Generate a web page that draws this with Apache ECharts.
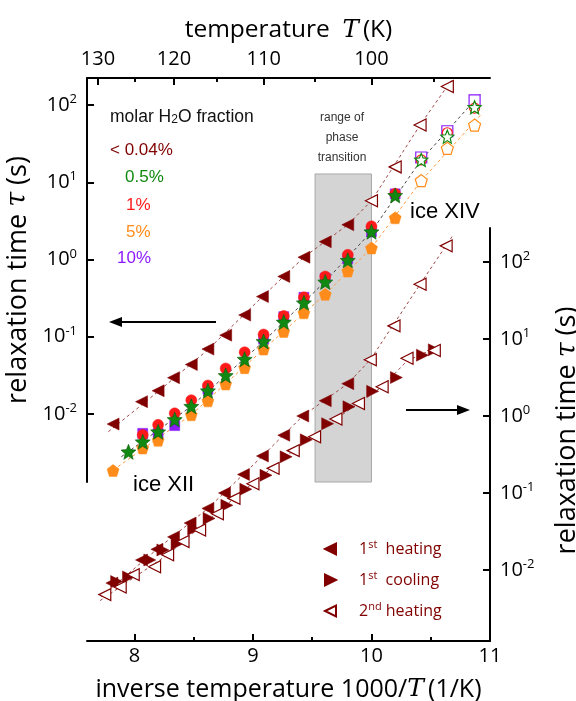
<!DOCTYPE html>
<html><head><meta charset="utf-8">
<script src="https://cdn.jsdelivr.net/npm/echarts@6/dist/echarts.min.js"></script>
<style>html,body{margin:0;padding:0;background:#fff}#c{width:576px;height:701px}</style>
</head><body><div id="c"></div>
<script>
// ---------- axis ticks ----------
const topMajorT = [130, 120, 110, 100];
const topMinorT = [125, 115, 105, 95];
const bottomMajor = [8, 9, 10, 11];
const bottomMinor = [8.5, 9.5, 10.5];
const logTicks = [-2, -1, 0, 1, 2];

// ---------- upper panel (left axis), x = 1000/T (1/K), tau (s) ----------
const h0X = [7.82, 8.06, 8.20, 8.33, 8.48, 8.62, 8.77, 8.93, 9.08, 9.26, 9.43, 9.61, 9.80];
const h0Tau = [0.00741, 0.01445, 0.0200, 0.0295, 0.0437, 0.0692, 0.105, 0.191, 0.331, 0.603, 1.07, 1.70, 2.82];
const h0OpenX = [10.00, 10.20, 10.41, 10.64];
const h0OpenTau = [5.75, 15.8, 55.0, 174];

const g5X = [7.95, 8.07, 8.20, 8.34, 8.48, 8.62, 8.77, 8.93, 9.09, 9.26, 9.43, 9.61, 9.80, 10.00, 10.20];
const g5Tau = [0.00324, 0.00437, 0.00589, 0.00851, 0.0126, 0.0200, 0.0316, 0.0513, 0.0871, 0.155, 0.275, 0.513, 0.977, 2.29, 6.76];
const g5OpenX = [10.42, 10.64, 10.87];
const g5OpenTau = [19.5, 38.9, 93.3];

const r1X = [8.07, 8.20, 8.34, 8.48, 8.62, 8.77, 8.93, 9.09, 9.26, 9.43, 9.61, 9.80, 10.00, 10.20];
const r1Tau = [0.00537, 0.00724, 0.0102, 0.0151, 0.0234, 0.0389, 0.0631, 0.107, 0.186, 0.324, 0.603, 1.15, 2.69, 7.08];
const r1OpenX = [10.42, 10.64, 10.87];
const r1OpenTau = [19.5, 43.7, 91.2];

const p10X = [8.07, 8.20, 8.34, 8.62, 9.09, 9.26, 9.43, 9.61, 9.80, 10.00, 10.20];
const p10Tau = [0.00562, 0.00562, 0.00708, 0.0209, 0.0933, 0.182, 0.324, 0.575, 1.02, 2.29, 7.08];
const p10OpenX = [10.42, 10.64, 10.87];
const p10OpenTau = [20.9, 45.7, 115];

const o5X = [7.82, 8.07, 8.20, 8.48, 8.62, 8.77, 8.93, 9.09, 9.26, 9.43, 9.61, 9.80, 10.00, 10.20];
const o5Tau = [0.00186, 0.00363, 0.00457, 0.00977, 0.0148, 0.0245, 0.0398, 0.0692, 0.117, 0.204, 0.355, 0.708, 1.41, 3.47];
const o5OpenX = [10.42, 10.64, 10.87];
const o5OpenTau = [10.5, 27.5, 55.0];

// dashed guide lines
const fitH0X = [7.78, 8.20, 8.62, 9.08, 9.43, 9.80, 10.00, 10.41, 10.68];
const fitH0Tau = [0.0059, 0.0195, 0.068, 0.33, 1.07, 2.82, 5.75, 55, 214];
const fitBlackX = [7.89, 8.48, 9.09, 9.61, 10.00, 10.42, 10.93];
const fitBlackTau = [0.0028, 0.0126, 0.087, 0.52, 2.3, 19.5, 145];
const fitOrangeX = [7.78, 8.48, 9.09, 9.61, 10.00, 10.42, 10.92];
const fitOrangeTau = [0.0017, 0.0098, 0.069, 0.355, 1.41, 10.5, 74];

// phase transition range
const transX = [9.524, 10.0];
const transTauTop = 12.8;

// ---------- lower panel (right axis) ----------
const heat1X = [7.81, 8.06, 8.19, 8.33, 8.47, 8.62, 8.76, 8.92, 9.08, 9.26, 9.42, 9.61, 9.80];
const heat1Tau = [0.00676, 0.0135, 0.0186, 0.0269, 0.0407, 0.0631, 0.100, 0.174, 0.302, 0.562, 1.00, 1.58, 2.63];
const heat1XivX = [9.99, 10.19, 10.41, 10.63];
const heat1XivTau = [5.37, 14.8, 51.3, 162];
const cool1X = [7.85, 7.95, 8.13, 8.24, 8.36, 8.50, 8.63, 8.78, 8.94, 9.11, 9.28, 9.45, 9.63, 9.81, 10.01, 10.21, 10.43, 10.53];
const cool1Tau = [0.00708, 0.00813, 0.0135, 0.0182, 0.0219, 0.0339, 0.0468, 0.0692, 0.112, 0.170, 0.295, 0.490, 0.794, 1.32, 2.09, 3.16, 6.17, 7.24];
const heat2X = [7.75, 7.88, 7.99, 8.17, 8.28, 8.41, 8.55, 8.70, 8.84, 9.00, 9.17, 9.34, 9.52, 9.70, 9.89, 10.09, 10.30, 10.53];
const heat2Tau = [0.00479, 0.00603, 0.00871, 0.0110, 0.0158, 0.0234, 0.0331, 0.0537, 0.0851, 0.132, 0.209, 0.355, 0.537, 0.912, 1.45, 2.40, 5.62, 7.08];

const fitAX = [7.72, 8.19, 8.62, 9.08, 9.42, 9.80, 9.99, 10.41, 10.68];
const fitATau = [0.0045, 0.0186, 0.0631, 0.302, 1.0, 2.63, 5.37, 51.3, 214];
const fitBX = [7.71, 8.28, 8.84, 9.34, 9.70, 10.09, 10.30, 10.56];
const fitBTau = [0.0040, 0.0158, 0.0851, 0.355, 0.912, 2.40, 5.2, 7.9];

// ---------- styling ----------
const DR = '#800000', GR = '#118811', RD = '#ff1a1a', OR = '#ff8c1a', PU = '#8c1aff';
const AX = "'Open Sans', 'Noto Sans', sans-serif";
const AR = "'Liberation Sans', Arial, sans-serif";
const STAR = 'path://M0,-10 L2.645,-3.641 L9.511,-3.09 L4.28,1.391 L5.878,8.09 L0,4.5 L-5.878,8.09 L-4.28,1.391 L-9.511,-3.09 L-2.645,-3.641 Z';
const PENT = 'path://M0,-10 L9.511,-3.09 L5.878,8.09 L-5.878,8.09 L-9.511,-3.09 Z';
const TRI_L = 'path://M0,5 L10,0 L10,10 Z';
const TRI_R = 'path://M10,5 L0,0 L0,10 Z';

function pts(xs, ts) { return xs.map((x, i) => [x, Math.log10(ts[i])]); }

const up = {xAxisIndex: 0, yAxisIndex: 0};
const lo = {xAxisIndex: 1, yAxisIndex: 1};

function fitLine(xs, ts, color, ax) {
  return Object.assign({type: 'line', data: pts(xs, ts), showSymbol: false, silent: true, z: 2,
    lineStyle: {color: color, width: 1, type: [3, 3]}, animation: false}, ax);
}
function sc(name, xs, ts, symbol, size, fill, border, bw, rot, z, ax) {
  return Object.assign({type: 'scatter', name: name, data: pts(xs, ts), symbol: symbol, symbolSize: size,
    symbolRotate: rot || 0, z: z, animation: false,
    itemStyle: {color: fill, borderColor: border, borderWidth: bw, opacity: 1}}, ax);
}

const TICKFS = 20;
const yLabel = {
  customValues: logTicks, margin: 10,
  formatter: v => '{b|10}{s|' + v + '}',
  rich: {b: {fontSize: TICKFS, fontFamily: AX, color: '#000', lineHeight: 24},
         s: {fontSize: 13, fontFamily: AX, color: '#000', verticalAlign: 'top', lineHeight: 15}}
};
function titleStyle(fs, extra) {
  return Object.assign({fontSize: fs, fontFamily: AX, color: '#000',
    rich: {i: {fontSize: fs, fontFamily: 'DejaVu Serif', fontStyle: 'italic', color: '#000'}}}, extra || {});
}
const axLine = {show: true, onZero: false, lineStyle: {color: '#000', width: 2}};
const noLine = {show: false, onZero: false};
const tickStyle = {width: 2, color: '#000'};
const gridBase = {containLabel: false, outerBoundsMode: 'none'};

const option = {
  backgroundColor: '#fff',
  animation: false,
  grid: [
    Object.assign({left: 87, top: 78, width: 403, height: 404}, gridBase),
    Object.assign({left: 87, top: 228, width: 403, height: 413}, gridBase),
    Object.assign({left: 87, top: 78, width: 403, height: 404}, gridBase),
    Object.assign({left: 87, top: 228, width: 403, height: 413}, gridBase)
  ],
  xAxis: [
    {gridIndex: 0, type: 'value', position: 'top', min: 7.6, max: 11,
     axisLine: axLine, splitLine: {show: false},
     axisTick: {inside: true, length: 7, lineStyle: tickStyle, customValues: topMajorT.map(t => 1000 / t)},
     axisLabel: {customValues: topMajorT.map(t => 1000 / t), formatter: v => String(Math.round(1000 / v)),
                 fontSize: TICKFS, fontFamily: AX, color: '#000', margin: 9},
     name: 'temperature  {i|T}\u2009(K)', nameLocation: 'middle', nameGap: 35, nameTextStyle: titleStyle(24.5)},
    {gridIndex: 1, type: 'value', position: 'bottom', min: 7.6, max: 11,
     axisLine: axLine, splitLine: {show: false},
     axisTick: {inside: true, length: 7, lineStyle: tickStyle, customValues: bottomMajor},
     axisLabel: {customValues: bottomMajor, fontSize: TICKFS, fontFamily: AX, color: '#000', margin: 5},
     name: 'inverse temperature 1000/{i|T}\u2009(1/K)', nameLocation: 'middle', nameGap: 36, nameTextStyle: titleStyle(25)},
    {gridIndex: 2, type: 'value', position: 'top', min: 7.6, max: 11,
     axisLine: noLine, splitLine: {show: false}, axisLabel: {show: false},
     axisTick: {inside: true, length: 4, lineStyle: tickStyle, customValues: topMinorT.map(t => 1000 / t)}},
    {gridIndex: 3, type: 'value', position: 'bottom', min: 7.6, max: 11,
     axisLine: noLine, splitLine: {show: false}, axisLabel: {show: false},
     axisTick: {inside: true, length: 4, lineStyle: tickStyle, customValues: bottomMinor}}
  ],
  yAxis: [
    {gridIndex: 0, type: 'value', position: 'left', min: -2.88, max: 2.3495,
     axisLine: axLine, splitLine: {show: false},
     axisTick: {inside: true, length: 7, lineStyle: tickStyle, customValues: logTicks},
     axisLabel: yLabel,
     name: 'relaxation time {i|τ} (s)', nameLocation: 'middle', nameGap: 39, nameTextStyle: titleStyle(27)},
    {gridIndex: 1, type: 'value', position: 'right', min: -2.922, max: 2.4416,
     axisLine: axLine, splitLine: {show: false},
     axisTick: {inside: true, length: 7, lineStyle: tickStyle, customValues: logTicks},
     axisLabel: yLabel,
     name: 'relaxation time {i|τ} (s)', nameLocation: 'middle', nameGap: 64,
     nameTextStyle: titleStyle(27, {padding: [0, 0, 0, 8]})},
    {gridIndex: 2, type: 'value', show: false, min: 0, max: 1, axisLine: noLine},
    {gridIndex: 3, type: 'value', show: false, min: 0, max: 1, axisLine: noLine}
  ],
  legend: {
    data: [{name: '1st heating', icon: TRI_L}, {name: '1st cooling', icon: TRI_R}, {name: '2nd heating', icon: TRI_L}],
    orient: 'vertical', left: 319, top: 534, itemWidth: 11, itemHeight: 12, itemGap: 13,
    formatter: n => n === '1st heating' ? '{b|1}{s|st}{b|  heating}' : n === '1st cooling' ? '{b|1}{s|st}{b|  cooling}' : '{b|2}{s|nd}{b| heating}',
    textStyle: {color: DR, fontSize: 16, fontFamily: AX, padding: [0, 0, 0, 18],
      rich: {b: {fontSize: 16, fontFamily: AX, color: DR, lineHeight: 20},
             s: {fontSize: 11, fontFamily: AX, color: DR, verticalAlign: 'top', lineHeight: 12}}},
    selectedMode: false
  },
  graphic: [
    {type: 'text', x: 110, y: 117, style: {text: 'molar H{s|2}O fraction', fontSize: 17.5, fontFamily: AR, fill: '#111',
      textVerticalAlign: 'middle', verticalAlign: 'middle',
      rich: {s: {fontSize: 12, fontFamily: AR, fill: '#111', verticalAlign: 'bottom', lineHeight: 12}}}},
    {type: 'text', x: 110, y: 150, style: {text: '< 0.04%', fontSize: 17, fontFamily: AR, fill: DR, textVerticalAlign: 'middle', verticalAlign: 'middle'}},
    {type: 'text', x: 125, y: 177, style: {text: '0.5%', fontSize: 17, fontFamily: AR, fill: GR, textVerticalAlign: 'middle', verticalAlign: 'middle'}},
    {type: 'text', x: 126, y: 205, style: {text: '1%', fontSize: 17, fontFamily: AR, fill: RD, textVerticalAlign: 'middle', verticalAlign: 'middle'}},
    {type: 'text', x: 126, y: 232, style: {text: '5%', fontSize: 17, fontFamily: AR, fill: OR, textVerticalAlign: 'middle', verticalAlign: 'middle'}},
    {type: 'text', x: 117, y: 258, style: {text: '10%', fontSize: 17, fontFamily: AR, fill: PU, textVerticalAlign: 'middle', verticalAlign: 'middle'}},
    {type: 'text', x: 342, y: 138, style: {text: 'range of\nphase\ntransition', fontSize: 12, fontFamily: AR, fill: '#333', lineHeight: 20,
      textAlign: 'center', align: 'center', textVerticalAlign: 'middle', verticalAlign: 'middle'}},
    {type: 'text', x: 410, y: 212, z: 10, style: {text: 'ice XIV', fontSize: 22, fontFamily: AR, fill: '#000', textVerticalAlign: 'middle', verticalAlign: 'middle'}},
    {type: 'text', x: 133, y: 485, z: 10, style: {text: 'ice XII', fontSize: 22, fontFamily: AR, fill: '#000', textVerticalAlign: 'middle', verticalAlign: 'middle'}},
    {type: 'line', shape: {x1: 118, y1: 322, x2: 216, y2: 322}, style: {stroke: '#000', lineWidth: 2}},
    {type: 'polygon', shape: {points: [[109, 322], [122, 317], [122, 327]]}, style: {fill: '#000'}},
    {type: 'line', shape: {x1: 406, y1: 410, x2: 461, y2: 410}, style: {stroke: '#000', lineWidth: 2}},
    {type: 'polygon', shape: {points: [[470, 410], [457, 405], [457, 415]]}, style: {fill: '#000'}}
  ],
  series: [
    Object.assign({type: 'custom', z: 1, silent: true, encode: {x: [0, 1], y: [2, 3]},
      data: [[transX[0], transX[1], -2.88, Math.log10(transTauTop)]],
      renderItem: (params, api) => {
        const a = api.coord([api.value(0), api.value(2)]);
        const b = api.coord([api.value(1), api.value(3)]);
        return {type: 'rect', shape: {x: a[0], y: b[1], width: b[0] - a[0], height: a[1] - b[1]},
                style: {fill: '#d4d4d4', stroke: '#a8a8a8', lineWidth: 1}};
      }}, up),
    fitLine(fitH0X, fitH0Tau, '#a04848', up),
    fitLine(fitBlackX, fitBlackTau, '#444', up),
    fitLine(fitOrangeX, fitOrangeTau, '#ff9a40', up),
    fitLine(fitAX, fitATau, '#a04848', lo),
    fitLine(fitBX, fitBTau, '#a04848', lo),
    // upper panel markers
    sc('10% filled', p10X, p10Tau, 'rect', 10, PU, PU, 0.5, 0, 3, up),
    sc('1% filled', r1X, r1Tau, 'circle', 11, RD, RD, 0.5, 0, 4, up),
    sc('5% filled', o5X, o5Tau, PENT, 12, OR, OR, 0.5, 0, 4, up),
    sc('0.5% filled', g5X, g5Tau, STAR, 15, GR, '#0a5a0a', 0.6, 0, 5, up),
    sc('<0.04% filled', h0X, h0Tau, 'triangle', 12, DR, DR, 0.5, 90, 5, up),
    sc('10% open', p10OpenX, p10OpenTau, 'rect', 11, '#fff', PU, 1.2, 0, 3, up),
    sc('1% open', r1OpenX, r1OpenTau, 'circle', 10, '#fff', RD, 1.2, 0, 4, up),
    sc('5% open', o5OpenX, o5OpenTau, PENT, 12, '#fff', OR, 1.2, 0, 4, up),
    sc('0.5% open', g5OpenX, g5OpenTau, STAR, 13, '#fff', GR, 1.2, 0, 5, up),
    sc('<0.04% open', h0OpenX, h0OpenTau, 'triangle', 12, '#fff', DR, 1.2, 90, 5, up),
    // lower panel markers
    sc('1st heating', heat1X, heat1Tau, 'triangle', 12, DR, DR, 0.5, 90, 5, lo),
    sc('1st cooling', cool1X, cool1Tau, 'triangle', 12, DR, DR, 0.5, -90, 5, lo),
    sc('2nd heating', heat2X, heat2Tau, 'triangle', 12, '#fff', DR, 1.2, 90, 6, lo),
    sc('1st heating (ice XIV)', heat1XivX, heat1XivTau, 'triangle', 12, '#fff', DR, 1.2, 90, 6, lo)
  ]
};

const chart = echarts.init(document.getElementById('c'), null, {renderer: 'canvas'});
chart.setOption(option);
</script>
</body></html>
